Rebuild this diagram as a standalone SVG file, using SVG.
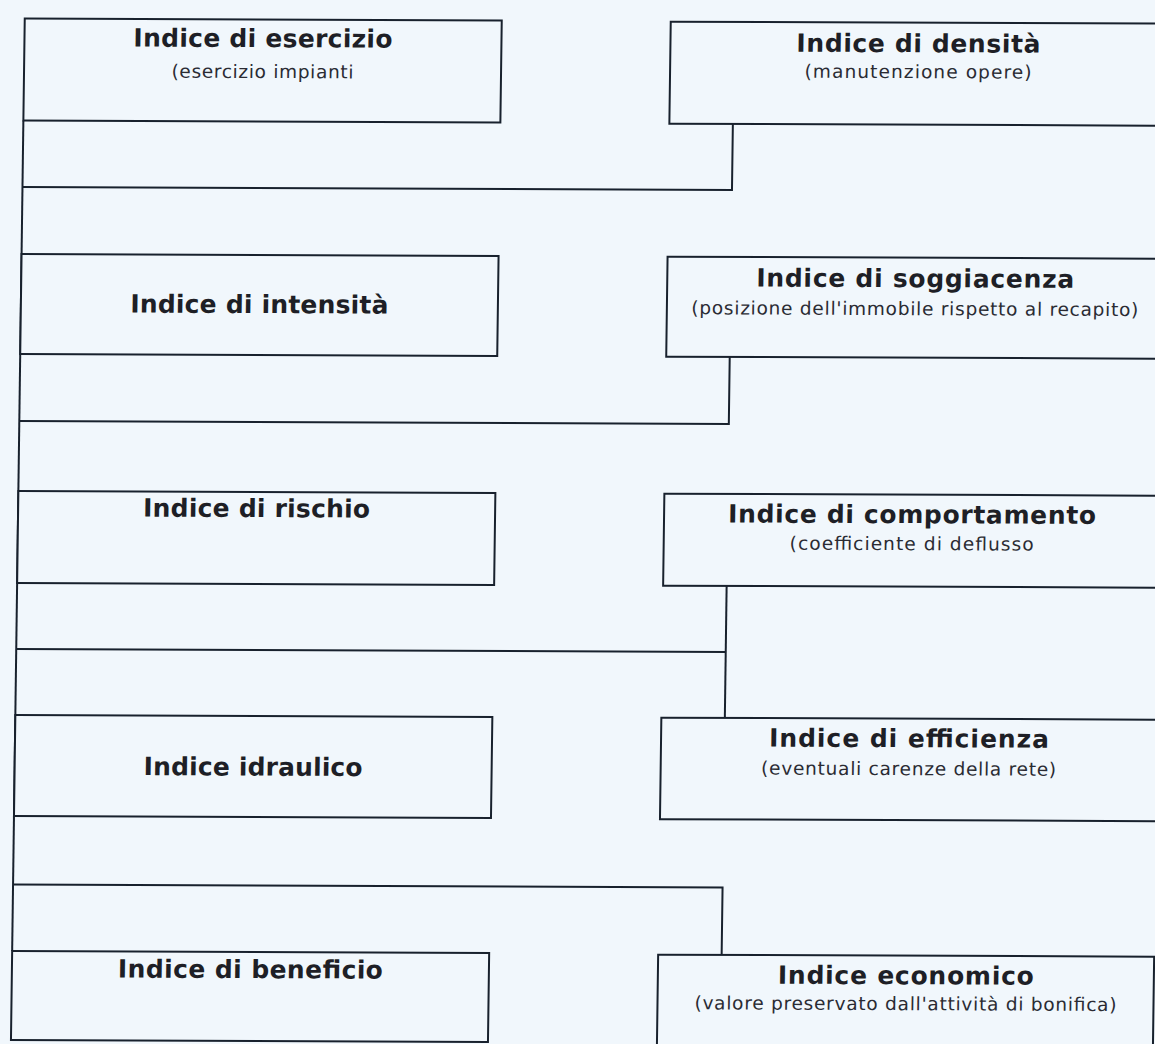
<svg xmlns="http://www.w3.org/2000/svg" width="1155" height="1044" viewBox="0 0 1155 1044">
  <style>
    .box { fill: #f1f7fc; stroke: #18212d; stroke-width: 2; }
    .conn { fill: none; stroke: #18212d; stroke-width: 2; }
    .t { font-family: "DejaVu Sans", "Liberation Sans", sans-serif; font-weight: bold; font-size: 25px; fill: #1e1f26; text-anchor: middle; }
    .s { font-family: "DejaVu Sans", "Liberation Sans", sans-serif; font-size: 18.5px; fill: #2a2b33; text-anchor: middle; }
  </style>
  <rect x="0" y="0" width="1155" height="1044" fill="#f1f7fc"/>
  <g transform="matrix(1 0.004 -0.0135 1 0 0)">
    <g id="connectors">
      <path class="conn" d="M25 120.5 V951"/>
      <path class="conn" d="M25 187 H734.5 V121"/>
      <path class="conn" d="M25 421 H734.5 V354"/>
      <path class="conn" d="M25 649 H734.5"/>
      <path class="conn" d="M734.5 583 V715"/>
      <path class="conn" d="M25 884.5 H734.5 V952"/>
    </g>
    <g id="node-esercizio">
      <rect class="box" x="25" y="18.5" width="477" height="102"/>
      <text class="t" x="263.5" y="46" textLength="259">Indice di esercizio</text>
      <text class="s" x="263.5" y="77" textLength="182">(esercizio impianti</text>
    </g>
    <g id="node-densita">
      <rect class="box" x="671" y="19" width="496" height="102"/>
      <text class="t" x="919" y="48.5" textLength="244">Indice di densità</text>
      <text class="s" x="919" y="74.5" textLength="227">(manutenzione opere)</text>
    </g>
    <g id="node-intensita">
      <rect class="box" x="25" y="254" width="477" height="100"/>
      <text class="t" x="263.5" y="312" textLength="258">Indice di intensità</text>
    </g>
    <g id="node-soggiacenza">
      <rect class="box" x="671" y="254" width="496" height="100"/>
      <text class="t" x="919" y="283.5" textLength="318">Indice di soggiacenza</text>
      <text class="s" x="919" y="311.5" textLength="447">(posizione dell'immobile rispetto al recapito)</text>
    </g>
    <g id="node-rischio">
      <rect class="box" x="25" y="491" width="477" height="92"/>
      <text class="t" x="263.5" y="516" textLength="227">Indice di rischio</text>
    </g>
    <g id="node-comportamento">
      <rect class="box" x="671" y="491" width="496" height="92"/>
      <text class="t" x="919" y="519.5" textLength="368">Indice di comportamento</text>
      <text class="s" x="919" y="546.5" textLength="244">(coefficiente di deflusso</text>
    </g>
    <g id="node-idraulico">
      <rect class="box" x="25" y="715" width="477" height="101"/>
      <text class="t" x="263.5" y="774.5" textLength="219">Indice idraulico</text>
    </g>
    <g id="node-efficienza">
      <rect class="box" x="671" y="715" width="496" height="101.5"/>
      <text class="t" x="919" y="743.5" textLength="280">Indice di efficienza</text>
      <text class="s" x="919" y="771.5" textLength="295">(eventuali carenze della rete)</text>
    </g>
    <g id="node-beneficio">
      <rect class="box" x="25" y="951" width="477" height="89"/>
      <text class="t" x="263.5" y="977" textLength="265">Indice di beneficio</text>
    </g>
    <g id="node-economico">
      <rect class="box" x="671" y="952" width="496" height="100"/>
      <text class="t" x="919" y="980.5" textLength="256">Indice economico</text>
      <text class="s" x="919" y="1006.5" textLength="422">(valore preservato dall'attività di bonifica)</text>
    </g>
  </g>
</svg>
